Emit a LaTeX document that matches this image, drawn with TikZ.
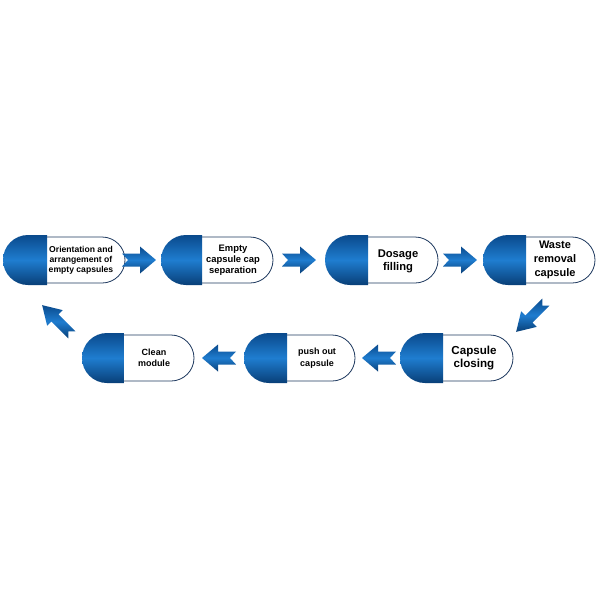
\documentclass[tikz,border=0pt]{standalone}
\usepackage{fontspec}
\setmainfont{Liberation Sans}
\definecolor{bdark}{HTML}{0A4A8C}
\definecolor{bmid}{HTML}{1F7DD0}
\definecolor{bline}{HTML}{1F3A60}
\tikzset{
  bluefill/.style={top color=bdark, bottom color=bdark!85!black, middle color=bmid},
  whitepart/.style={draw=bline, line width=0.8pt, fill=white},
  lbl/.style={font=\bfseries, align=center, inner sep=0pt},
  blockarrow/.pic={
    \path[bluefill, shading angle=0]
      (-17,-6.5) -- (1,-6.5) -- (1,-13.5) -- (17,0) -- (1,13.5) -- (1,6.5)
      -- (-17,6.5) -- (-11,0) -- cycle;
  },
  thinarrow/.pic={
    \path[bluefill]
      (-21,-5) -- (3,-5) -- (3,-11) -- (21,0) -- (3,11) -- (3,5)
      -- (-21,5) -- (-16,0) -- cycle;
  }
}
% capsule: #1 name, #2 x0, #3 x1, #4 x2, #5 cy
\newcommand{\capsulebox}[5]{%
  \path[whitepart] (#3-4,#5-23) -- (#4-23,#5-23) arc[start angle=-90,end angle=90,radius=23]
     -- (#3-4,#5+23) -- cycle;
  \path[bluefill] (#3,#5-25) -- (#2+25,#5-25) arc[start angle=-90,end angle=-270,radius=25]
     -- (#3,#5+25) -- cycle;
  \coordinate (#1) at (#3,#5);
}
\begin{document}
\begin{tikzpicture}[x=1pt,y=-1pt]
\useasboundingbox (0,0) rectangle (600,600);
\fill[white] (0,0) rectangle (600,600);
% row 1
\capsulebox{c1}{3}{47}{125}{260}
\capsulebox{c2}{161}{202}{273}{260}
\capsulebox{c3}{325}{368}{438}{260}
\capsulebox{c4}{483}{526}{595}{260}
% row 2
\capsulebox{c5}{400}{443}{513}{358}
\capsulebox{c6}{244}{287}{355}{358}
\capsulebox{c7}{82}{124}{194}{358}
% labels
\node[lbl, font=\bfseries\fontsize{8.6}{9.8}\selectfont] (t1) at (81,260) {Orientation and\\arrangement of\\empty capsules};
\node[lbl, font=\bfseries\fontsize{9.4}{11}\selectfont] (t2) at (233,260) {Empty\\capsule cap\\separation};
\node[lbl, font=\bfseries\fontsize{11.2}{13}\selectfont] (t3) at (398,261) {Dosage\\filling};
\node[lbl, font=\bfseries\fontsize{11}{13.8}\selectfont] (t4) at (555,260) {Waste\\removal\\capsule};
\node[lbl, font=\bfseries\fontsize{11.6}{13.2}\selectfont] (t5) at (474,358) {Capsule\\closing};
\node[lbl, font=\bfseries\fontsize{9}{11.5}\selectfont] (t6) at (317,358) {push out\\capsule};
\node[lbl, font=\bfseries\fontsize{9}{11.5}\selectfont] (t7) at (154,358) {Clean\\module};
% arrows
\pic at (139,260) {blockarrow};
\pic at (299,260) {blockarrow};
\pic at (460,260) {blockarrow};
\pic[rotate=180] at (379,358) {blockarrow};
\pic[rotate=180] at (219,358) {blockarrow};
\pic[rotate=225] at (531,317) {thinarrow};
\pic[rotate=135] at (57,320) {thinarrow};
\end{tikzpicture}
\end{document}
